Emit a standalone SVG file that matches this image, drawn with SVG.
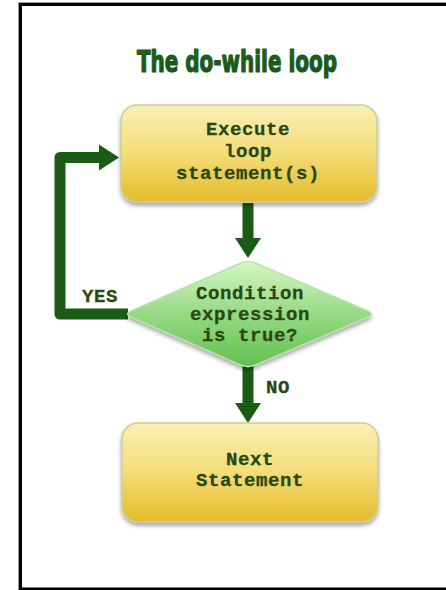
<svg xmlns="http://www.w3.org/2000/svg" width="446" height="590" viewBox="0 0 446 590">
  <style>
    .box { fill: url(#boxFill); stroke: #c9cf96; stroke-width: 1.5; filter: url(#shadow); }
    .dia { fill: url(#diaFill); stroke: #b4e2a4; stroke-width: 1.5; filter: url(#shadow); }
    .lbl { font-family: "Liberation Mono", "Courier New", monospace; font-weight: bold; font-size: 19px; letter-spacing: 0.6px; fill: #284812; stroke: #284812; stroke-width: 0.3; text-anchor: middle; }
    .title { font-family: "Liberation Sans Narrow", "DejaVu Sans Condensed", "Liberation Sans", sans-serif; font-weight: bold; font-size: 31px; fill: url(#titleFill); stroke: #1a5816; stroke-width: 1.2; stroke-linejoin: round; }
    .wire { fill: none; stroke: #1b5c15; stroke-width: 11; stroke-linejoin: round; stroke-linecap: butt; }
  </style>
  <defs>
    <linearGradient id="boxFill" x1="0" y1="0" x2="0" y2="1">
      <stop offset="0" stop-color="#faf0b8"/>
      <stop offset="0.5" stop-color="#f4dc76"/>
      <stop offset="1" stop-color="#e5bb2c"/>
    </linearGradient>
    <linearGradient id="diaFill" x1="0" y1="0" x2="0" y2="1">
      <stop offset="0" stop-color="#d6f5c6"/>
      <stop offset="0.5" stop-color="#96da84"/>
      <stop offset="1" stop-color="#62c050"/>
    </linearGradient>
    <linearGradient id="titleFill" x1="0" y1="0" x2="0" y2="1">
      <stop offset="0" stop-color="#216a1c"/>
      <stop offset="1" stop-color="#17501a"/>
    </linearGradient>
    <filter id="shadow" x="-10%" y="-10%" width="120%" height="130%">
      <feDropShadow dx="0" dy="3" stdDeviation="2" flood-color="#000" flood-opacity="0.35"/>
    </filter>
    <marker id="head" markerUnits="userSpaceOnUse" markerWidth="22" markerHeight="28" refX="0" refY="13" orient="auto" viewBox="0 0 22 26">
      <path d="M0,0 L20,13 L0,26 Z" fill="#1b5c15"/>
    </marker>
  </defs>

  <!-- outer frame -->
  <rect x="18.5" y="2.5" width="500" height="588" fill="#fff" stroke="#999" stroke-width="1"/>
  <rect x="20.5" y="4.5" width="500" height="584.5" fill="#fff" stroke="#000" stroke-width="3"/>

  <text class="title" x="237" y="72" text-anchor="middle" textLength="200" lengthAdjust="spacingAndGlyphs">The do-while loop</text>

  <g id="connectors">
    <path class="wire" d="M248,203 V238" marker-end="url(#head)"/>
    <path class="wire" d="M248,366 V403" marker-end="url(#head)"/>
    <path class="wire" d="M128,314 H60 V157.5 H99" marker-end="url(#head)"/>
    <text class="lbl" x="100" y="302">YES</text>
    <text class="lbl" x="278" y="393">NO</text>
  </g>

  <g id="execute">
    <rect class="box" x="121" y="105" width="256" height="97" rx="16"/>
    <text class="lbl" x="248" y="135">Execute</text>
    <text class="lbl" x="248" y="157">loop</text>
    <text class="lbl" x="248" y="179">statement(s)</text>
  </g>

  <g id="condition">
    <path class="dia" d="M240.6,263.1 Q248,260 255.4,263.1 L367.6,310.9 Q375,314 367.6,317.1 L255.4,364.9 Q248,368 240.6,364.9 L131.4,317.1 Q124,314 131.4,310.9 Z"/>
    <text class="lbl" x="250" y="299">Condition</text>
    <text class="lbl" x="250" y="320">expression</text>
    <text class="lbl" x="250" y="341">is true?</text>
  </g>

  <g id="next">
    <rect class="box" x="122" y="423" width="256" height="99" rx="16"/>
    <text class="lbl" x="250" y="465">Next</text>
    <text class="lbl" x="250" y="486">Statement</text>
  </g>
</svg>
